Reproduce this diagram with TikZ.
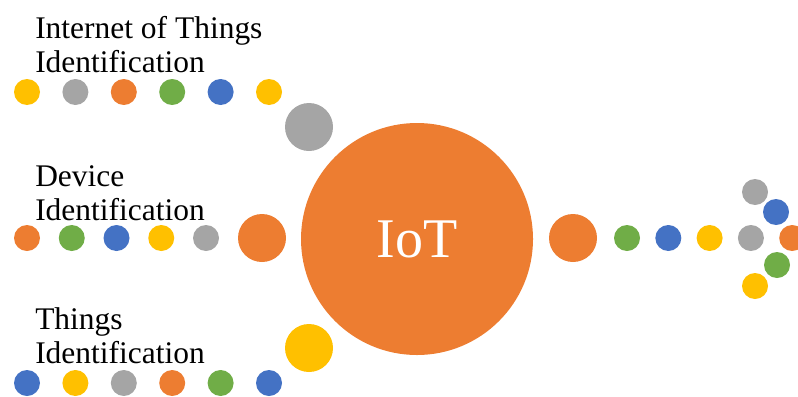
\documentclass[tikz,border=0pt]{standalone}
\usepackage{fontspec}
\setmainfont{Liberation Serif}
\usepackage{xcolor}
\usepackage{tikz}
\usetikzlibrary{shapes,positioning}
\definecolor{iotorange}{RGB}{237,125,49}
\definecolor{iotgray}{RGB}{165,165,165}
\definecolor{iotyellow}{RGB}{255,192,0}
\definecolor{iotblue}{RGB}{68,114,196}
\definecolor{iotgreen}{RGB}{112,173,71}

\begin{document}
\begin{tikzpicture}[x=0.75pt, y=-0.75pt,
        dot/.style={circle, inner sep=0pt, minimum size=19.5pt},
        hub/.style={circle, inner sep=0pt, minimum size=36pt},
        idtext/.style={anchor=base west, inner sep=0pt, align=left,
            font=\fontsize{23.6}{25}\selectfont}]
        \useasboundingbox (0,0) rectangle (798,396);

        % centre
        \node[circle, fill=iotorange, inner sep=0pt, minimum size=174pt,
            text=white, font=\fontsize{42}{42}\selectfont] (iot) at (417,239) {IoT};

        % labels (anchored at the baseline of the last line)
        \node[idtext] (thingsid) at (35,72) {Internet of Things\\Identification};
        \node[idtext] (deviceid) at (35,220) {Device\\Identification};
        \node[idtext] (objectid) at (35,363) {Things\\Identification};

        % upper row
        \foreach \c [count=\i] in {iotyellow,iotgray,iotorange,iotgreen,iotblue,iotyellow}
            \node[dot, fill=\c] (up\i) at ({27+48.4*(\i-1)},92) {};
        \node[hub, fill=iotgray] (uphub) at (309,127) {};

        % middle row
        \foreach \c [count=\i] in {iotorange,iotgreen,iotblue,iotyellow,iotgray}
            \node[dot, fill=\c] (mid\i) at ({27+44.75*(\i-1)},238) {};
        \node[hub, fill=iotorange] (midhub) at (262,238) {};

        % lower row
        \foreach \c [count=\i] in {iotblue,iotyellow,iotgray,iotorange,iotgreen,iotblue}
            \node[dot, fill=\c] (low\i) at ({27+48.4*(\i-1)},383) {};
        \node[hub, fill=iotyellow] (lowhub) at (309,348) {};

        % output
        \node[hub, fill=iotorange] (outhub) at (573,238) {};
        \foreach \c [count=\i] in {iotgreen,iotblue,iotyellow,iotgray,iotorange}
            \node[dot, fill=\c] (out\i) at ({627+41.3*(\i-1)},238) {};
        \node[dot, fill=iotgray] (tip1) at (755,192) {};
        \node[dot, fill=iotblue] (tip2) at (776,212) {};
        \node[dot, fill=iotgreen] (tip3) at (777,265) {};
        \node[dot, fill=iotyellow] (tip4) at (755,286) {};
    \end{tikzpicture}
\end{document}
